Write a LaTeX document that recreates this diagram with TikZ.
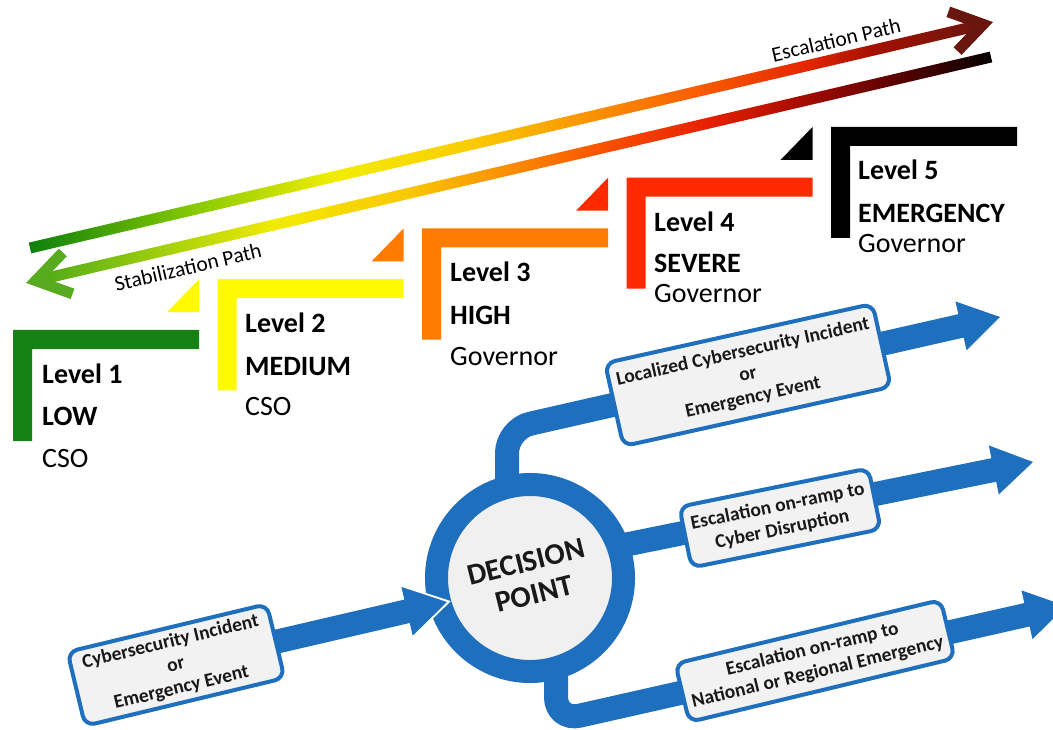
\documentclass[tikz,border=0pt]{standalone}
\usepackage{fontspec}
\setmainfont{Carlito}
\usetikzlibrary{calc}
\pgfdeclarelayer{paper}
\pgfdeclarelayer{flows}
\pgfsetlayers{paper,flows,main}

\definecolor{lvgreen}{RGB}{22,130,22}
\definecolor{lvyellow}{RGB}{255,250,0}
\definecolor{lvorange}{RGB}{255,124,0}
\definecolor{lvred}{RGB}{255,42,0}
\definecolor{flowblue}{RGB}{30,112,190}
\definecolor{boxgray}{RGB}{242,242,242}
\definecolor{dpgray}{RGB}{240,240,240}
\definecolor{inkdark}{RGB}{25,25,25}
\definecolor{eschead}{RGB}{105,22,15}
\definecolor{stabhead}{RGB}{88,170,30}

% colour ramps along the two diagonal paths (25bp..75bp spans the path)
\pgfdeclarehorizontalshading{escshade}{100bp}{rgb(0bp)=(0.05,0.50,0.05); rgb(25bp)=(0.05,0.50,0.05); rgb(34bp)=(0.55,0.80,0.0); rgb(41.1bp)=(0.95,0.93,0.0); rgb(48.1bp)=(0.98,0.80,0.0); rgb(55.1bp)=(0.98,0.55,0.0); rgb(60.4bp)=(0.98,0.35,0.0); rgb(65.7bp)=(0.90,0.15,0.0); rgb(69.2bp)=(0.65,0.06,0.0); rgb(75bp)=(0.41,0.09,0.06); rgb(100bp)=(0.41,0.09,0.06)}
\pgfdeclarehorizontalshading{stabshade}{100bp}{rgb(0bp)=(0.30,0.66,0.10); rgb(25bp)=(0.30,0.66,0.10); rgb(31.9bp)=(0.65,0.82,0.05); rgb(37.5bp)=(0.95,0.92,0.0); rgb(44.5bp)=(0.98,0.78,0.0); rgb(49.8bp)=(0.98,0.55,0.0); rgb(55.1bp)=(0.98,0.30,0.0); rgb(60.3bp)=(0.90,0.12,0.0); rgb(65.6bp)=(0.62,0.04,0.0); rgb(70.8bp)=(0.30,0.0,0.0); rgb(75bp)=(0.02,0.0,0.0); rgb(100bp)=(0.02,0.0,0.0)}

\begin{document}
\begin{tikzpicture}[x=1pt,y=-1pt,
  lvlbold/.style={anchor=base west, inner sep=0pt, font=\bfseries\fontsize{28}{34}\selectfont},
  lvlplain/.style={anchor=base west, inner sep=0pt, font=\fontsize{28}{34}\selectfont},
  pathlbl/.style={inner sep=0pt, rotate=13.2, font=\fontsize{21.5}{25}\selectfont},
  evbox/.style={rectangle, rounded corners=10pt, draw=flowblue, line width=4pt,
    fill=boxgray, align=center, inner sep=0pt, text=inkdark,
    font=\bfseries\fontsize{19.5}{23.5}\selectfont},
  dpnode/.style={circle, draw=flowblue, line width=23pt, fill=dpgray,
    minimum size=187pt, inner sep=0pt, align=center, rotate=14, text=inkdark,
    font=\bfseries\fontsize{30}{33}\selectfont},
  shaft/.style={draw=flowblue, line width=24pt},
  chevron/.style={line width=11pt, line join=miter}]

\useasboundingbox (0,0) rectangle (1053,730);
\begin{pgfonlayer}{paper}
  \fill[white] (0,0) rectangle (1053,730);
\end{pgfonlayer}

% ---------- escalation / stabilization paths ----------
\coordinate (e0) at (30,248);
\coordinate (e1) at (989,23);
\coordinate (s0) at (991,57);
\coordinate (s1) at (30,282);

\shade[shading=escshade]
  ($(e0)!5.5pt!90:(e1)$) -- ($(e1)!8pt!(e0)!5.5pt!-90:(e0)$) --
  ($(e1)!8pt!(e0)!5.5pt!90:(e0)$) -- ($(e0)!5.5pt!-90:(e1)$) -- cycle;
\coordinate (e1v) at ($(e1)!6pt!(e0)$);
\draw[chevron, eschead] ($(e1v)!37pt!33:(e0)$) -- (e1v) -- ($(e1v)!37pt!-33:(e0)$);

\shade[shading=stabshade]
  ($(s0)!5.5pt!90:(s1)$) -- ($(s1)!8pt!(s0)!5.5pt!-90:(s0)$) --
  ($(s1)!8pt!(s0)!5.5pt!90:(s0)$) -- ($(s0)!5.5pt!-90:(s1)$) -- cycle;
\coordinate (s1v) at ($(s1)!6pt!(s0)$);
\draw[chevron, stabhead] ($(s1v)!39pt!33:(s0)$) -- (s1v) -- ($(s1v)!39pt!-33:(s0)$);

\node[pathlbl] (esclbl) at (836,40) {Escalation Path};
\node[pathlbl] (stablbl) at (188,267) {Stabilization Path};

% ---------- level steps ----------
\foreach \k/\col in {1/lvgreen,2/lvyellow,3/lvorange,4/lvred,5/black}{
  \pgfmathsetmacro{\lx}{13+204.5*(\k-1)}
  \pgfmathsetmacro{\ty}{330-50.75*(\k-1)}
  \fill[\col] (\lx,\ty) -- ++(186,0) -- ++(0,19) -- ++(-167,0) -- ++(0,92) -- ++(-19,0) -- cycle;
  \ifnum\k>1
    \fill[\col] (\lx-18.5,\ty) -- (\lx-18.5,\ty+33) -- (\lx-50.5,\ty+33) -- cycle;
  \fi
}

\node[lvlbold]  (l1a) at (42,383) {Level 1};
\node[lvlbold]  (l1b) at (42,425) {LOW};
\node[lvlplain] (l1c) at (42,467) {CSO};
\node[lvlbold]  (l2a) at (245,333) {Level 2};
\node[lvlbold]  (l2b) at (245,375) {MEDIUM};
\node[lvlplain] (l2c) at (245,415) {CSO};
\node[lvlbold]  (l3a) at (450,282) {Level 3};
\node[lvlbold]  (l3b) at (450,324) {HIGH};
\node[lvlplain] (l3c) at (450,365) {Governor};
\node[lvlbold]  (l4a) at (654,232) {Level 4};
\node[lvlbold]  (l4b) at (654,273) {SEVERE};
\node[lvlplain] (l4c) at (654,303) {Governor};
\node[lvlbold]  (l5a) at (858,180) {Level 5};
\node[lvlbold]  (l5b) at (858,223) {EMERGENCY};
\node[lvlplain] (l5c) at (858,253) {Governor};

% ---------- decision flow ----------
\node[dpnode] (dp) at (530,578) {DECISION\\POINT};
\node[evbox, minimum width=205pt, minimum height=76pt, rotate=13.5] (inc) at (176,665)
  {Cybersecurity Incident\\or\\Emergency Event};
\node[evbox, minimum width=274pt, minimum height=85pt, rotate=12.5] (loc) at (748,375)
  {Localized Cybersecurity Incident\\or\\Emergency Event};
\node[evbox, minimum width=193pt, minimum height=62pt, rotate=11.5] (cyb) at (780,518)
  {Escalation on-ramp to\\Cyber Disruption};
\node[evbox, minimum width=273pt, minimum height=60pt, rotate=13.5] (nat) at (815,661)
  {Escalation on-ramp to\\National or Regional Emergency};

\coordinate (tin)  at (447,602);
\coordinate (u0)   at (507,560);
\coordinate (u1)   at (507,429);
\coordinate (tloc) at (1000,317);
\coordinate (m0)   at (560,558);
\coordinate (tcyb) at (1033,462);
\coordinate (b0)   at (556,600);
\coordinate (b1)   at (556,721);
\coordinate (tnat) at (1066,606);

\begin{pgfonlayer}{flows}
  \draw[shaft] (inc.center) -- ($(tin)!38pt!(inc.center)$);
  \draw[shaft, rounded corners=24pt] (u0) -- (u1) -- ($(tloc)!38pt!(u1)$);
  \draw[shaft] (m0) -- ($(tcyb)!38pt!(m0)$);
  \draw[shaft, rounded corners=24pt] (b0) -- (b1) -- ($(tnat)!38pt!(b1)$);
\end{pgfonlayer}

% arrow heads
\draw[white, line width=4pt, line join=miter]
  ($(tin)!41pt!(inc.center)!25pt!90:(tin)$) -- (tin) -- ($(tin)!41pt!(inc.center)!25pt!-90:(tin)$);
\fill[flowblue] (tin) -- ($(tin)!41pt!(inc.center)!25pt!90:(tin)$) -- ($(tin)!41pt!(inc.center)!25pt!-90:(tin)$) -- cycle;
\fill[flowblue] (tloc) -- ($(tloc)!40pt!(u1)!25pt!90:(tloc)$) -- ($(tloc)!40pt!(u1)!25pt!-90:(tloc)$) -- cycle;
\fill[flowblue] (tcyb) -- ($(tcyb)!40pt!(m0)!25pt!90:(tcyb)$) -- ($(tcyb)!40pt!(m0)!25pt!-90:(tcyb)$) -- cycle;
\fill[flowblue] (tnat) -- ($(tnat)!40pt!(b1)!25pt!90:(tnat)$) -- ($(tnat)!40pt!(b1)!25pt!-90:(tnat)$) -- cycle;

\end{tikzpicture}
\end{document}
